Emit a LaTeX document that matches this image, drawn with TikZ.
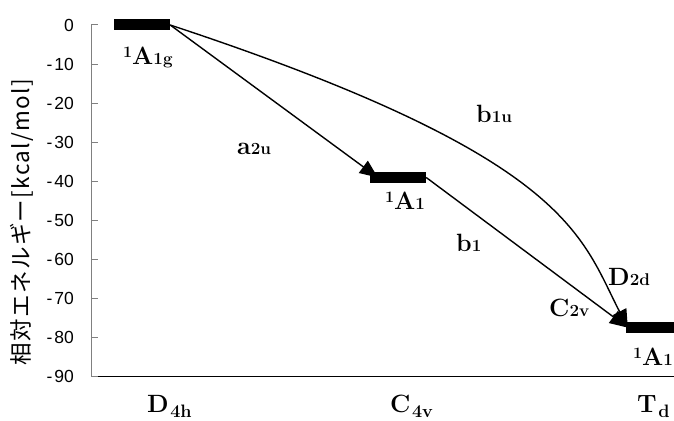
\documentclass[tikz,border=0pt]{standalone}
\usepackage{fontspec}
\newfontfamily\axisfont{Liberation Sans}
\newfontfamily\jpfont[LetterSpace=6]{Noto Sans CJK JP}
\usetikzlibrary{arrows.meta,positioning,calc,backgrounds}
\definecolor{ink}{HTML}{000000}
\definecolor{axisgray}{HTML}{808080}
\newcommand{\subsym}[1]{{\fontsize{17}{18}\selectfont#1}}
\newcommand{\supsym}[1]{\raisebox{7pt}{\fontsize{16}{18}\selectfont#1}}
\newcommand{\lowsym}[1]{\kern1.5pt\raisebox{-5pt}{\fontsize{18}{18}\selectfont#1}}
\tikzset{
  >={Triangle[length=18pt,width=15pt]},
  level/.style={fill=ink,minimum width=56pt,minimum height=11pt,inner sep=0pt},
  symlab/.style={font=\fontsize{25}{28}\selectfont\bfseries,text=ink,anchor=base west,inner sep=0pt},
  ticklab/.style={font=\axisfont\fontsize{17.5}{20}\selectfont,anchor=east,inner sep=0pt},
  axisline/.style={line width=1pt,draw=axisgray},
  arrow/.style={->,line width=1.4pt,draw=ink},
}

\begin{document}
\begin{tikzpicture}[x=1pt,y=3.91pt]
  \useasboundingbox (0,6.39) rectangle (674,-101.28);
  \begin{scope}[on background layer]
    \fill[white] (0,6.39) rectangle (674,-101.28);
  \end{scope}

  \draw[axisline] (91,0) coordinate (ytop) -- (91,-90) coordinate (origin);
  \draw[line width=1pt,draw=ink] (origin) -- (674,-90) coordinate (xend);
  \foreach \v in {0,10,...,90} {
    \draw[axisline] (91,-\v) -- (98,-\v);
    \node[ticklab] (tick\v) at (74,-\v) {\ifnum\v>0 -\kern2pt\fi\v};
  }
  \node[rotate=90,font=\jpfont\fontsize{22.5}{24}\selectfont,inner sep=0pt] (ytitle) at (22,-50.4) {相対エネルギー[kcal/mol]};

  \node[level] (d4h) at (142,0) {};
  \node[level] (c4v) at (398,-39) {};
  \node[level] (td) at (654,-77.4) {};

  \begin{scope}[on background layer]
    \draw[arrow] (d4h.east) -- ($(c4v.west)+(8,0)$);
    \draw[arrow] (c4v.east) -- ($(td.west)+(2,0)$);
    \draw[arrow] (d4h.east) .. controls (570,-33.8) and (580,-53.7) .. ($(td.west)+(2,0)$);
  \end{scope}

  \node[symlab] (d4hstate) at (123,-10.2) {\supsym{1}A\subsym{1g}};
  \node[symlab] (c4vstate) at (385,-47.3) {\supsym{1}A\subsym{1}};
  \node[symlab] (tdstate) at (633,-87.0) {\supsym{1}A\subsym{1}};
  \node[symlab] (a2u) at (237,-33.2) {a\subsym{2u}};
  \node[symlab] (b1u) at (476,-25.0) {b\subsym{1u}};
  \node[symlab] (b1) at (456,-58.0) {b\subsym{1}};
  \node[symlab] (d2d) at (608,-66.5) {D\subsym{2d}};
  \node[symlab] (c2v) at (549,-74.6) {C\subsym{2v}};

  \node[symlab] (d4hsym) at (147,-99) {D\lowsym{4h}};
  \node[symlab] (c4vsym) at (390,-99) {C\lowsym{4v}};
  \node[symlab] (tdsym) at (637,-99) {T\lowsym{d}};
\end{tikzpicture}
\end{document}
